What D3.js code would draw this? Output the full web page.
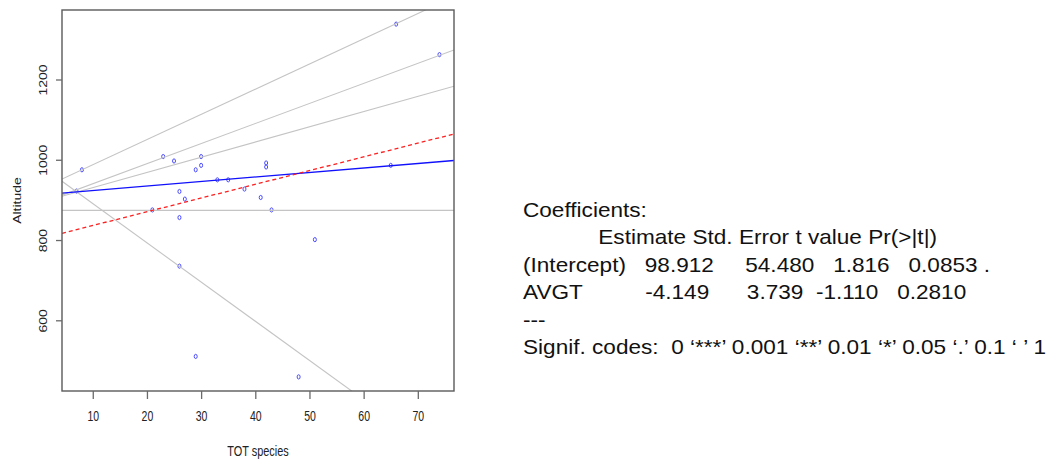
<!DOCTYPE html>
<html>
<head>
<meta charset="utf-8">
<script src="https://cdn.jsdelivr.net/npm/d3@7"></script>
<style>
  html, body { margin: 0; padding: 0; background: #fff; }
  svg { display: block; font-family: "Liberation Sans", Arial, sans-serif; }
</style>
</head>
<body>
<svg id="chart" width="1055" height="460"></svg>
<script>
// Survey plots: total species count against altitude
const totSpecies = [7, 8, 21, 23, 25, 26, 26, 26, 27, 29, 29, 30, 30, 33, 35, 38, 41, 42, 42, 43, 48, 51, 65, 66, 74];
const altitude   = [922, 975, 875, 1008, 997, 921, 856, 735, 902, 975, 510, 1008, 986, 950, 950, 927, 906, 992, 982, 875, 459, 801, 986, 1338, 1262];

// Reference lines (intercept, slope) drawn in grey
const refIntercepts = [924.7, 890.3, 892.5, 874, 988.5];
const refSlopes     = [6.28, 5.0, 3.79, 0, -9.77];

// Fitted lines
const fitIntercept = 912.1, fitSlope = 1.123;       // solid blue
const altIntercept = 802,   altSlope = 3.42;        // dashed red

const xTicks = [10, 20, 30, 40, 50, 60, 70];
const yTicks = [600, 800, 1000, 1200];

// Regression summary printed beside the plot
const summaryLines = [
  "Coefficients:",
  "            Estimate Std. Error t value Pr(>|t|)",
  "(Intercept)   98.912     54.480   1.816   0.0853 .",
  "AVGT          -4.149      3.739  -1.110   0.2810  ",
  "---",
  "Signif. codes:  0 \u2018***\u2019 0.001 \u2018**\u2019 0.01 \u2018*\u2019 0.05 \u2018.\u2019 0.1 \u2018 \u2019 1"
];

const svg = d3.select("#chart");
const plot = { left: 62, right: 454, top: 10, bottom: 391 };

// R-style axis extension: 4% beyond the data range on each side
function padded(ext) {
  const d = (ext[1] - ext[0]) * 0.04;
  return [ext[0] - d, ext[1] + d];
}
const x = d3.scaleLinear().domain(padded(d3.extent(totSpecies))).range([plot.left, plot.right]);
const y = d3.scaleLinear().domain(padded(d3.extent(altitude))).range([plot.bottom, plot.top]);

svg.append("clipPath").attr("id", "plotclip")
  .append("rect")
  .attr("x", plot.left).attr("y", plot.top)
  .attr("width", plot.right - plot.left).attr("height", plot.bottom - plot.top);

const inner = svg.append("g").attr("clip-path", "url(#plotclip)");
const [x0, x1] = x.domain();

function abline(a, b) {
  return d3.line()([[x(x0), y(a + b * x0)], [x(x1), y(a + b * x1)]]);
}

// points
inner.append("g").selectAll("ellipse")
  .data(totSpecies.map((t, i) => [t, altitude[i]]))
  .join("ellipse")
  .attr("cx", d => x(d[0]))
  .attr("cy", d => y(d[1]))
  .attr("rx", 1.5).attr("ry", 2.1)
  .attr("fill", "none")
  .attr("stroke", "#3a3aff")
  .attr("stroke-width", 0.9);

// grey reference lines
inner.append("g").selectAll("path")
  .data(refIntercepts.map((a, i) => [a, refSlopes[i]]))
  .join("path")
  .attr("d", d => abline(d[0], d[1]))
  .attr("fill", "none")
  .attr("stroke", "#c4c4c4")
  .attr("stroke-width", 1.1);

inner.append("path")
  .attr("d", abline(fitIntercept, fitSlope))
  .attr("fill", "none").attr("stroke", "#1010ff").attr("stroke-width", 1.3);

inner.append("path")
  .attr("d", abline(altIntercept, altSlope))
  .attr("fill", "none").attr("stroke", "#ff2020").attr("stroke-width", 1.3)
  .attr("stroke-dasharray", "4,3");

// box
svg.append("rect")
  .attr("x", plot.left).attr("y", plot.top)
  .attr("width", plot.right - plot.left).attr("height", plot.bottom - plot.top)
  .attr("fill", "none").attr("stroke", "#5a5a5a").attr("stroke-width", 1.4);

// x axis
const xAxis = svg.append("g").attr("transform", `translate(0,${plot.bottom})`)
  .call(d3.axisBottom(x).tickValues(xTicks).tickSize(8).tickFormat(d3.format("d")));
xAxis.select(".domain").remove();
xAxis.selectAll(".tick line").attr("stroke", "#6a6a6a").attr("stroke-width", 1.3);
xAxis.selectAll(".tick text").attr("y", 0).attr("dy", 0)
  .attr("transform", "translate(0,30) scale(0.75,1)")
  .attr("font-size", 14).attr("fill", "#222")
  .attr("font-family", "Liberation Sans, Arial, sans-serif");

// y axis
const yAxis = svg.append("g").attr("transform", `translate(${plot.left},0)`)
  .call(d3.axisLeft(y).tickValues(yTicks).tickSize(6).tickFormat(d3.format("d")));
yAxis.select(".domain").remove();
yAxis.selectAll(".tick line").attr("stroke", "#6a6a6a").attr("stroke-width", 1.3);
yAxis.selectAll(".tick text").attr("x", 0).attr("dy", 0)
  .attr("text-anchor", "middle")
  .attr("transform", "translate(-15,0) scale(0.8,1) rotate(-90)")
  .attr("font-size", 14).attr("fill", "#222")
  .attr("font-family", "Liberation Sans, Arial, sans-serif");

// axis titles
svg.append("text")
  .attr("transform", `translate(${(plot.left + plot.right) / 2},456) scale(0.78,1)`)
  .attr("text-anchor", "middle").attr("font-size", 14).attr("fill", "#222")
  .text("TOT species");

svg.append("text")
  .attr("transform", `translate(21,${(plot.top + plot.bottom) / 2}) scale(0.8,1) rotate(-90)`)
  .attr("text-anchor", "middle").attr("font-size", 14).attr("fill", "#222")
  .text("Altitude");

// summary table
const summary = svg.append("g").attr("transform", "translate(523,0)");
summary.selectAll("text")
  .data(summaryLines)
  .join("text")
  .attr("xml:space", "preserve")
  .style("white-space", "pre")
  .attr("transform", (d, i) => `translate(0,${216.7 + i * 27.5}) scale(1.13,1)`)
  .attr("font-size", 20)
  .attr("fill", "#111")
  .text(d => d);
</script>
</body>
</html>
